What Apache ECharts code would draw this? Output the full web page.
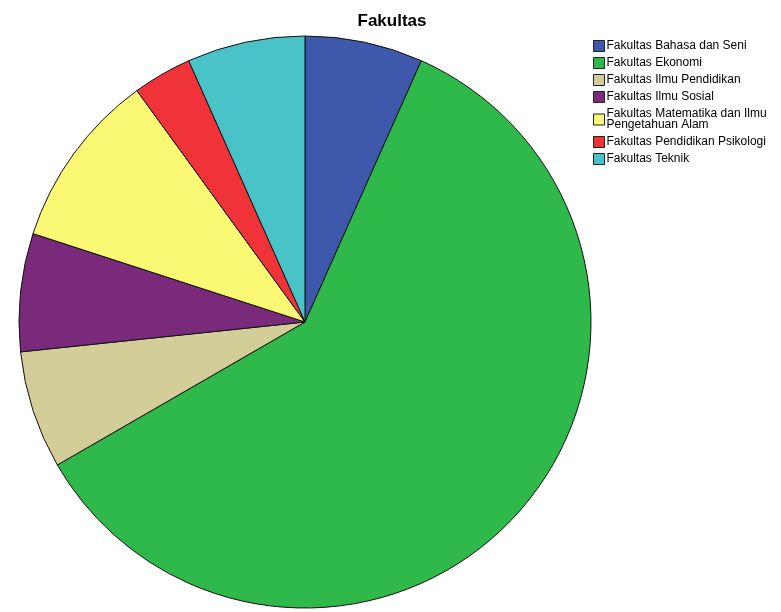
<!DOCTYPE html>
<html><head><meta charset="utf-8">
<script src="https://cdn.jsdelivr.net/npm/echarts@6/dist/echarts.min.js"></script>
<style>html,body{margin:0;padding:0;background:#fff}#c{width:781px;height:612px}</style>
</head><body><div id="c"></div>
<script>
const categories = ["Fakultas Bahasa dan Seni","Fakultas Ekonomi","Fakultas Ilmu Pendidikan","Fakultas Ilmu Sosial","Fakultas Matematika dan Ilmu\nPengetahuan Alam","Fakultas Pendidikan Psikologi","Fakultas Teknik"];
const values = [2,18,2,2,3,1,2];
const colors = ["#3e58ac","#2fb94a","#d3ce97","#7a2a7b","#fbf873","#ef3338","#4ac3c8"];
const chart = echarts.init(document.getElementById('c'));
chart.setOption({
  animation:false,
  title:{text:"Fakultas",left:387,top:8,textAlign:'center',textStyle:{fontFamily:'Liberation Sans',fontSize:17,fontWeight:'bold',color:'#000'}},
  legend:{orient:'vertical',left:588,top:35,itemWidth:11,itemHeight:11,itemGap:5,icon:'rect',
    textStyle:{fontFamily:'Liberation Sans',fontSize:12,color:'#000',padding:[0,0,0,-3],lineHeight:11},
    itemStyle:{borderColor:'#222',borderWidth:1},
    data:categories},
  series:[{type:'pie',center:[305,322],radius:286,startAngle:90,clockwise:true,
    label:{show:false},labelLine:{show:false},
    itemStyle:{borderColor:'#111',borderWidth:1},
    emphasis:{disabled:true},
    data:categories.map((n,i)=>({name:n,value:values[i],itemStyle:{color:colors[i]}}))}]
});
</script></body></html>
